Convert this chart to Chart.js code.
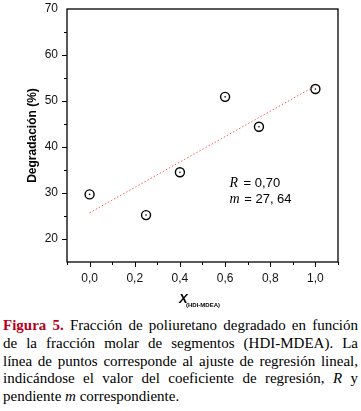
<!DOCTYPE html>
<html lang="es">
  <head>
    <meta charset="utf-8">
    <title>Figura 5</title>
    <style>
      body { margin: 0; background: #fff; }
      #wrap { width: 361px; height: 312px; }
      .caption {
        width: 355px; margin: 5px 0 0 3px;
        font-family: "Liberation Serif", serif; font-size: 15px; line-height: 17.8px;
        color: #000;
      }
      .caption div { text-align: justify; text-align-last: justify; white-space: nowrap; }
      .caption div:last-child { text-align-last: left; }
      .caption b { color: #b8001c; }
    </style>
  </head>
  <body>
    <div id="wrap"><canvas id="myChart"></canvas></div>
    <div class="caption">
      <div><b>Figura 5.</b> Fracción de poliuretano degradado en función</div>
      <div>de la fracción molar de segmentos (HDI-MDEA). La</div>
      <div>línea de puntos corresponde al ajuste de regresión lineal,</div>
      <div>indicándose el valor del coeficiente de regresión, <i>R</i> y</div>
      <div>pendiente <i>m</i> correspondiente.</div>
    </div>

    <script src="https://cdn.jsdelivr.net/npm/chart.js@4.4.0/dist/chart.umd.min.js"></script>
    <script>
      // values
      const fraccion = [0, 0.25, 0.4, 0.6, 0.75, 1.0];
      const degradacion = [29.7, 25.2, 34.5, 50.9, 44.4, 52.6];
      const ajusteX = [0, 1.0];
      const ajusteY = [25.7, 53.3];
      const xTicks = [-0.1, 0, 0.1, 0.2, 0.3, 0.4, 0.5, 0.6, 0.7, 0.8, 0.9, 1.0, 1.1];
      const yTicks = [15, 20, 25, 30, 35, 40, 45, 50, 55, 60, 65, 70];
      const xLabels = ['0,0', '0,2', '0,4', '0,6', '0,8', '1,0'];
      const yLabels = ['20', '30', '40', '50', '60', '70'];

      const pts = fraccion.map((v, i) => ({x: v, y: degradacion[i]}));
      const fit = ajusteX.map((v, i) => ({x: v, y: ajusteY[i]}));

      function labelFor(list, v) {
        const s = Number.isInteger(v) && v >= 10 ? String(v) : v.toFixed(1).replace('.', ',');
        return list.includes(s) ? s : '';
      }

      // frame, outward tick marks, x title and R / m note
      const extras = {
        id: 'extras',
        afterDraw(chart) {
          const {ctx, chartArea: a, scales: {x, y}} = chart;
          ctx.save();
          ctx.strokeStyle = '#000';
          ctx.lineWidth = 1.3;
          ctx.strokeRect(a.left, a.top, a.right - a.left, a.bottom - a.top);
          ctx.lineWidth = 1;
          ctx.beginPath();
          xTicks.forEach(v => {
            const px = Math.round(x.getPixelForValue(v)) + 0.5;
            const len = labelFor(xLabels, v) ? 5 : 3;
            ctx.moveTo(px, a.bottom); ctx.lineTo(px, a.bottom + len);
          });
          yTicks.slice(1, -1).forEach(v => {
            const py = Math.round(y.getPixelForValue(v)) + 0.5;
            const len = labelFor(yLabels, v) ? 5 : 3;
            ctx.moveTo(a.left, py); ctx.lineTo(a.left - len, py);
          });
          ctx.stroke();

          // x axis title with subscript
          ctx.fillStyle = '#000';
          ctx.textBaseline = 'alphabetic';
          ctx.font = 'italic bold 13px "Liberation Sans", Arial';
          ctx.fillText('X', 179, 303);
          ctx.font = 'bold 6px "Liberation Sans", Arial';
          ctx.fillText('(HDI-MDEA)', 186, 307);

          // regression note
          const nx = x.getPixelForValue(0.62);
          const ny = y.getPixelForValue(31.3);
          ctx.font = 'italic 14px "Liberation Serif", serif';
          ctx.fillText('R', nx, ny);
          ctx.fillText('m', nx, ny + 15.7);
          ctx.font = '13px "Liberation Sans", Arial';
          ctx.fillText(' = 0,70', nx + ctx.measureText('R').width + 1, ny);
          ctx.fillText(' = 27, 64', nx + 11, ny + 15.7);
          ctx.restore();
        }
      };

      var ctx = document.getElementById('myChart').getContext('2d');
      var chart = new Chart(ctx, {
        type: 'scatter',
        data: {
          datasets: [
            {
              type: 'line',
              data: fit,
              borderColor: '#ff5a5a',
              borderWidth: 1,
              borderDash: [1.5, 2],
              pointRadius: 0,
              fill: false
            },
            {
              data: pts,
              pointRadius: 4.5,
              pointBorderWidth: 1.4,
              pointBorderColor: '#000',
              pointBackgroundColor: 'rgba(0,0,0,0)'
            },
            {
              data: pts,
              pointRadius: 0.8,
              pointBorderWidth: 0,
              pointBackgroundColor: '#000'
            }
          ]
        },
        options: {
          responsive: true,
          maintainAspectRatio: false,
          animation: false,
          events: [],
          layout: { padding: { top: 9, right: 23, left: 0, bottom: 0 } },
          plugins: { legend: { display: false }, tooltip: { enabled: false } },
          scales: {
            x: {
              type: 'linear',
              min: -0.1, max: 1.1,
              afterBuildTicks: s => { s.ticks = xTicks.map(v => ({value: v})); },
              afterFit: s => { s.height = 50; s.paddingLeft = 0; s.paddingRight = 0; },
              grid: { display: false, drawTicks: false },
              border: { display: false },
              ticks: {
                autoSkip: false, maxRotation: 0, padding: 9,
                color: '#111',
                font: { family: '"Liberation Sans", Arial', size: 12 },
                callback: v => labelFor(xLabels, v)
              }
            },
            y: {
              type: 'linear',
              min: 15, max: 70,
              afterBuildTicks: s => { s.ticks = yTicks.map(v => ({value: v})); },
              afterFit: s => { s.width = 67; s.paddingTop = 0; s.paddingBottom = 0; },
              grid: { display: false, drawTicks: false },
              border: { display: false },
              title: {
                display: true, text: 'Degradación (%)', color: '#000',
                padding: { top: 25, bottom: 0 },
                font: { family: '"Liberation Sans", Arial', size: 12, weight: 'bold' }
              },
              ticks: {
                autoSkip: false, padding: 9,
                color: '#111',
                font: { family: '"Liberation Sans", Arial', size: 12 },
                callback: v => labelFor(yLabels, v)
              }
            }
          }
        },
        plugins: [extras]
      });
    </script>
  </body>
</html>
